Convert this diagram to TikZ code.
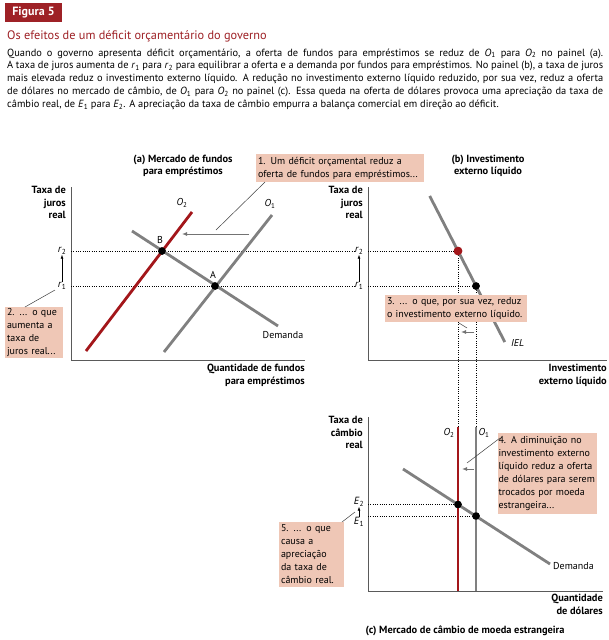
\documentclass[tikz,border=0pt]{standalone}
\usepackage{fontspec}
\setmainfont{PT Sans}
\usepackage{xcolor}
\usepackage{tikz}
\usetikzlibrary{arrows.meta,positioning}
\definecolor{deepred}{HTML}{A3161A}
\definecolor{figred}{HTML}{9E2126}
\definecolor{notefill}{HTML}{EFC7B6}
\definecolor{curvegray}{HTML}{808080}
\definecolor{axisgray}{HTML}{5A5A5A}
\newcommand{\vsub}[2]{\textit{#1}\textsubscript{#2}}
\newcommand{\notetext}{\fontsize{10}{13}\selectfont}
\newcommand{\labeltext}{\fontsize{10.4}{12.6}\selectfont\bfseries}
\newcommand{\ticktext}{\fontsize{10.4}{12}\selectfont}

\begin{document}
\begin{tikzpicture}[x=1pt,y=-1pt,
  every node/.style={inner sep=0pt},
  axis/.style={draw=axisgray,line width=0.9pt},
  grayline/.style={draw=curvegray,line width=2.8pt},
  redline/.style={draw=deepred,line width=2.8pt},
  guide/.style={line width=0.9pt,dash pattern=on 1pt off 1.3pt},
  dot/.style={circle,fill=black,minimum size=7.5pt},
  reddot/.style={circle,fill=deepred,minimum size=8.5pt},
  note/.style={fill=notefill,inner xsep=2pt,inner ysep=1pt,align=left,font=\notetext},
  heading/.style={font=\labeltext,align=center},
  ylabel/.style={font=\labeltext,align=right,anchor=north east},
  xlabel/.style={font=\labeltext,align=right,anchor=north east},
  tick/.style={font=\ticktext},
  curvelabel/.style={font=\notetext},
  shiftarrow/.style={draw=black!55,line width=1pt,-{Latex[length=5pt,width=4pt]}},
  rise/.style={line width=0.6pt,-{Latex[length=4pt,width=3pt]}},
  pointer/.style={draw=black!75,line width=0.5pt}]
\useasboundingbox[fill=white] (0,0) rectangle (608,640);

\node[fill=figred,text=white,font=\fontsize{12}{14}\selectfont\bfseries,minimum width=57pt,minimum height=19pt] (fig) at (33.5,12.5) {Figura 5};
\node[anchor=base west,text=figred,font=\fontsize{12.3}{14}\selectfont] (title) at (7,39) {Os efeitos de um déficit orçamentário do governo};
\node[anchor=north west,text width=596pt,align=justify,font=\fontsize{10.4}{12.8}\selectfont] (para) at (7,48.5)
  {Quando o governo apresenta déficit orçamentário, a oferta de fundos para empréstimos se reduz de \vsub{O}{1} para \vsub{O}{2} no painel (a).\linebreak
   A taxa de juros aumenta de \vsub{r}{1} para \vsub{r}{2} para equilibrar a oferta e a demanda por fundos para empréstimos. No painel (b), a taxa de juros\linebreak
   mais elevada reduz o investimento externo líquido. A redução no investimento externo líquido reduzido, por sua vez, reduz a oferta\linebreak
   de dólares no mercado de câmbio, de \vsub{O}{1} para \vsub{O}{2} no painel (c). Essa queda na oferta de dólares provoca uma apreciação da taxa de\linebreak
   câmbio real, de \vsub{E}{1} para \vsub{E}{2}. A apreciação da taxa de câmbio empurra a balança comercial em direção ao déficit.};

% (a) mercado de fundos para empréstimos
\coordinate (aTop) at (71,187);
\coordinate (aOrig) at (71,360);
\coordinate (aEnd) at (305,360);
\draw[axis] (aTop) -- (aOrig) -- (aEnd);
\node[heading] (aTitle) at (183,166) {(a) Mercado de fundos\\para empréstimos};
\node[ylabel] (aY) at (66,186) {Taxa de\\juros\\real};
\node[xlabel] (aX) at (305,364) {Quantidade de fundos\\para empréstimos};
\node[tick] (ar2) at (62,251) {\vsub{r}{2}};
\node[tick] (ar1) at (62,286) {\vsub{r}{1}};
\node[tick] (br2) at (359,251) {\vsub{r}{2}};
\node[tick] (br1) at (359,286) {\vsub{r}{1}};
\draw[rise] (ar1) -- (ar2);
\draw[rise] (br1) -- (br2);
\coordinate (aO1s) at (164,352);
\coordinate (aO1e) at (272,215);
\coordinate (aO2s) at (86,351);
\coordinate (aO2e) at (192,212);
\coordinate (aDs) at (132,231);
\coordinate (aDe) at (278,326);
\node[dot] (A) at (215,286) {};
\node[dot] (B) at (162,251) {};
\draw[guide] (aOrig |- B) -- (br2.west);
\draw[guide] (aOrig |- A) -- (br1.west);
\draw[grayline] (aO1s) -- (aO1e);
\draw[grayline] (aDs) -- (aDe);
\draw[redline] (aO2s) -- (aO2e);
\node[dot] at (A) {};
\node[dot] at (B) {};
\node[curvelabel] (Alabel) at (213,275) {A};
\node[curvelabel] (Blabel) at (160,240) {B};
\node[curvelabel] (aO1label) at (270,204) {\vsub{O}{1}};
\node[curvelabel] (aO2label) at (182,203) {\vsub{O}{2}};
\node[curvelabel] (aDlabel) at (283,335) {Demanda};
\coordinate (aShiftS) at (249,234);
\coordinate (aShiftE) at (182,234);
\draw[shiftarrow] (aShiftS) -- (aShiftE);
\node[note,text width=164pt,minimum height=28pt] (n1) at (340,168) {1. Um déficit orçamental reduz a\\oferta de fundos para empréstimos...};
\coordinate (n1foot) at (265,182);
\coordinate (n1tip) at (216,230);
\draw[pointer] (n1foot) -- (n1tip);
\node[note,text width=54pt,minimum height=51pt] (n2) at (34,332.5) {2. ... o que\\aumenta a\\taxa de\\juros real...};
\coordinate (n2foot) at (25,307);
\coordinate (n2tip) at (55,290);
\draw[pointer] (n2foot) -- (n2tip);

% (b) investimento externo liquido
\coordinate (bTop) at (368,187);
\coordinate (bOrig) at (368,360);
\coordinate (bEnd) at (607,360);
\draw[axis] (bTop) -- (bOrig) -- (bEnd);
\node[heading] (bTitle) at (488,166) {(b) Investimento\\externo líquido};
\node[ylabel] (bY) at (363,186) {Taxa de\\juros\\real};
\node[xlabel] (bX) at (607,364) {Investimento\\externo líquido};
\node[reddot] (bHigh) at (458,251) {};
\node[dot] (bLow) at (476,286) {};
\coordinate (cO2top) at (458,427);
\coordinate (cO1top) at (476,427);
\draw[guide] (bOrig |- bHigh) -- (bHigh);
\draw[guide] (bOrig |- bLow) -- (bLow);
\draw[guide] (bHigh) -- (cO2top);
\draw[guide] (bLow) -- (cO1top);
\coordinate (IELs) at (429.7,196);
\coordinate (IELe) at (504.8,342);
\draw[grayline] (IELs) -- (IELe);
\node[reddot] at (bHigh) {};
\node[dot] at (bLow) {};
\node[curvelabel,anchor=west,font=\notetext\itshape] (IELlabel) at (511,343) {IEL};
\node[note,text width=138pt,minimum height=27pt] (n3) at (456,308.5) {3. ... o que, por sua vez, reduz\\o investimento externo líquido.};
\coordinate (n3foot) at (459,323);
\coordinate (n3tip) at (467,328);
\draw[pointer] (n3foot) -- (n3tip);
\coordinate (bShiftS) at (474,332);
\coordinate (bShiftE) at (461,332);
\draw[shiftarrow] (bShiftS) -- (bShiftE);

% (c) mercado de cambio de moeda estrangeira
\coordinate (cTop) at (368,417);
\coordinate (cOrig) at (368,591);
\coordinate (cEnd) at (603,591);
\draw[axis] (cTop) -- (cOrig) -- (cEnd);
\node[heading] (cTitle) at (465,631) {(c) Mercado de câmbio de moeda estrangeira};
\node[ylabel] (cY) at (363,416) {Taxa de\\câmbio\\real};
\node[xlabel] (cX) at (603,594) {Quantidade\\de dólares};
\node[tick] (cE2) at (359,502) {\vsub{E}{2}};
\node[tick] (cE1) at (359,522) {\vsub{E}{1}};
\draw[rise] (cE1) -- (cE2);
\node[dot] (cHigh) at (458,504.5) {};
\node[dot] (cLow) at (476,516) {};
\draw[guide] (cOrig |- cHigh) -- (cHigh);
\draw[guide] (cOrig |- cLow) -- (cLow);
\coordinate (cDs) at (403,469);
\coordinate (cDe) at (550,564);
\draw[grayline] (cO1top) -- (cO1top |- cOrig);
\draw[grayline] (cDs) -- (cDe);
\draw[redline] (cO2top) -- (cO2top |- cOrig);
\node[dot] at (cHigh) {};
\node[dot] at (cLow) {};
\node[curvelabel] (cO2label) at (449,433) {\vsub{O}{2}};
\node[curvelabel] (cO1label) at (484,433) {\vsub{O}{1}};
\node[curvelabel,anchor=west] (cDlabel) at (553,566) {Demanda};
\coordinate (cShiftS) at (474,469);
\coordinate (cShiftE) at (462,469);
\draw[shiftarrow] (cShiftS) -- (cShiftE);
\node[note,text width=97pt,inner xsep=1pt,minimum height=81pt] (n4) at (547,473.5) {4. A diminuição no\\investimento externo\\líquido reduz a oferta\\de dólares para serem\\trocados por moeda\\estrangeira...};
\coordinate (n4foot) at (500,438);
\coordinate (n4tip) at (467,463);
\draw[pointer] (n4foot) -- (n4tip);
\node[note,text width=61pt,minimum height=65pt] (n5) at (311.5,554.5) {5. ... o que\\causa a\\apreciação\\da taxa de\\câmbio real.};
\coordinate (n5foot) at (342,522);
\coordinate (n5tip) at (355,512);
\draw[pointer] (n5foot) -- (n5tip);
\end{tikzpicture}
\end{document}
